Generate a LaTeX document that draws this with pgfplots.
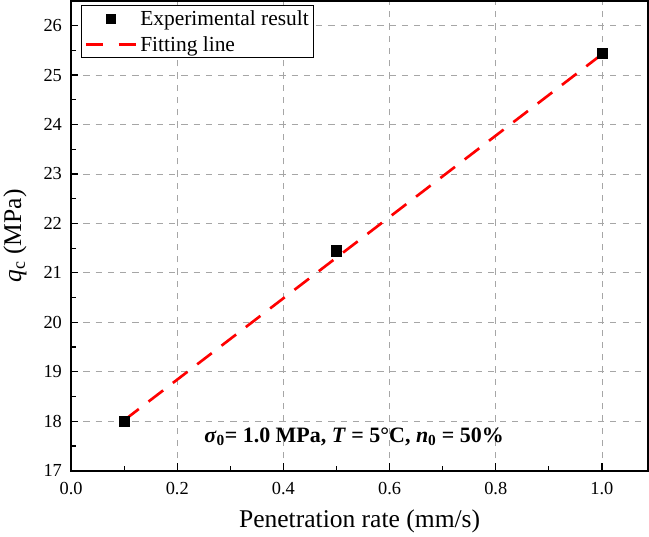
\documentclass[border=0pt]{standalone}
\usepackage{pgfplots}
\pgfplotsset{compat=1.18}
\usepackage{fontspec}
\setmainfont{Liberation Serif}
\pgfplotsset{
  sqleg/.style={legend image code/.code={\path[draw=none] (0pt,0pt) -- (50pt,0pt); \draw[##1, mark size=4.5pt] plot coordinates {(25pt,0pt)};}},
  lnleg/.style={legend image code/.code={\draw[##1, dash pattern=on 17pt off 15pt] (0pt,0pt) -- (50pt,0pt);}},
}
\begin{document}
\begin{tikzpicture}
\begin{axis}[
  scale only axis,
  width=565pt, height=460pt,
  xmin=0, xmax=1.087, ymin=17, ymax=26.5,
  xtick={0,0.2,...,1.0},
  ytick={17,18,...,26},
  minor x tick num=1, minor y tick num=1,
  tick pos=left,
  xticklabel style={yshift=-8pt, /pgf/number format/.cd,fixed,fixed zerofill,precision=1},
  /pgf/number format/assume math mode=true,
  tick label style={font=\fontsize{18}{22}\selectfont},
  yticklabel style={xshift=-5.5pt},
  tick align=inside,
  major tick length=7pt, minor tick length=5pt,
  tick style={black, line width=1.2pt},
  axis line style={line width=1.8pt},
  grid=major,
  major grid style={gray!70, line width=0.8pt, dash pattern=on 6pt off 6pt},
  xlabel={Penetration rate (mm/s)},
  ylabel={\textit{q}\textsubscript{c} (MPa)},
  label style={font=\fontsize{25}{29}\selectfont},
  xlabel style={at={(axis description cs:0.5,0)}, anchor=center, yshift=-50pt},
  ylabel style={at={(axis description cs:0,0.5)}, anchor=center, yshift=55pt},
  legend style={at={(axis description cs:0.017,0.991)}, anchor=north west, font=\fontsize{21}{24}\selectfont, draw=black, line width=1pt, inner xsep=3pt, inner ysep=3pt, row sep=5pt, cells={anchor=west}},
  legend cell align=left,
]
\addplot[only marks, mark=square*, mark size=5pt, black, sqleg] coordinates {
  (0.1,18.0) (0.5,21.45) (1.0,25.45)
};
\addlegendentry{Experimental result}
\addplot[red, line width=2.6pt, dash pattern=on 18pt off 12pt, no marks, lnleg] coordinates {
  (0.1,18.02) (1.0,25.42)
};
\addlegendentry{Fitting line}
\node[font=\fontsize{21.5}{25}\selectfont\bfseries] at (axis cs:0.533,17.68) {\textit{σ}\textsubscript{0}= 1.0 MPa, \textit{T} = 5°C, \textit{n}\textsubscript{0} = 50\%};
\end{axis}
\end{tikzpicture}
\end{document}
